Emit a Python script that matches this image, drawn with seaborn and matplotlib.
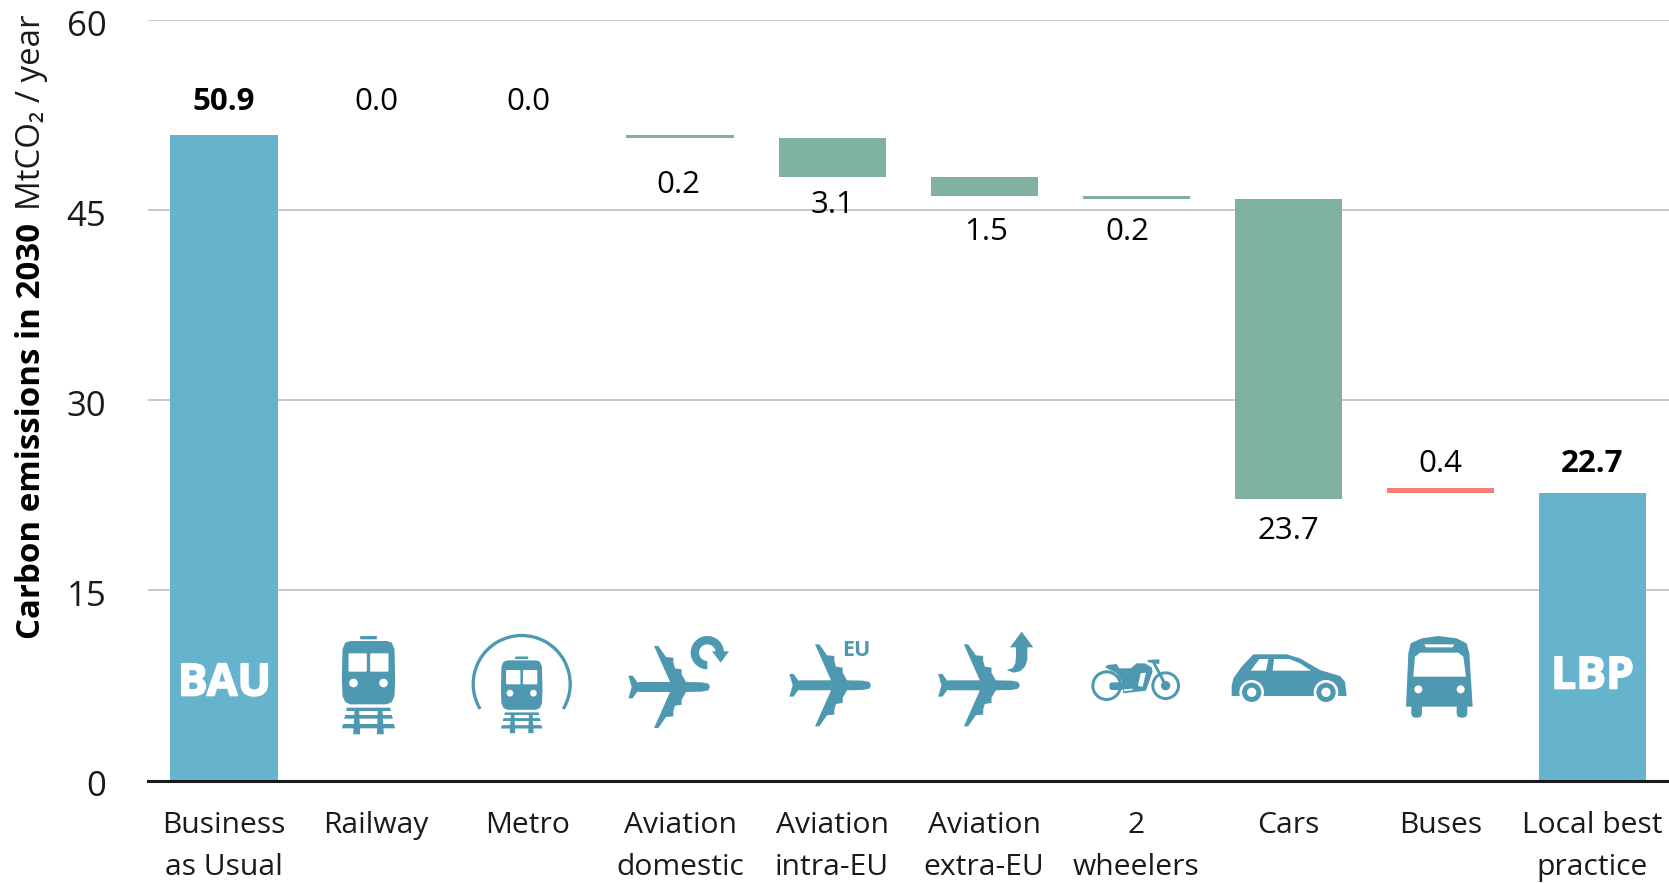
import numpy as np
import matplotlib
matplotlib.use("Agg")
import matplotlib.pyplot as plt
import seaborn as sns
import matplotlib.patheffects as pe
from matplotlib.patches import PathPatch, Circle, Polygon, FancyBboxPatch
from matplotlib.path import Path
from matplotlib.transforms import Affine2D

# Data -----------------------------------------------------------------
categories = ["Business\nas Usual", "Railway", "Metro", "Aviation\ndomestic",
              "Aviation\nintra-EU", "Aviation\nextra-EU", "2\nwheelers",
              "Cars", "Buses", "Local best\npractice"]
bau_total = 50.9
lbp_total = 22.7
# Reductions from one step to the next, MtCO2 / year
reductions = [0.0, 0.0, 0.2, 3.1, 1.5, 0.2, 23.7]
bus_increase = 0.4
value_texts = ["50.9", "0.0", "0.0", "0.2", "3.1", "1.5", "0.2", "23.7", "0.4", "22.7"]
label_heights = [53.5, 53.5, 53.5, 47.0, 45.4, 43.25, 43.25, 19.65, 24.95, 24.95]
label_x = [0, 0, 0, -0.01, 0, 0.01, -0.06, 0, 0, 0]
y_ticks = [0, 15, 30, 45, 60]

# Style ----------------------------------------------------------------
W, H = 1669, 883
BLUE, GREEN, RED = "#66b3ce", "#7eb1a0", "#f27f75"
ICON = "#4e99b1"
TEXT = "#1a1a1a"

sns.set_theme(style="white")
plt.rcParams["font.family"] = ["Open Sans", "DejaVu Sans"]

fig = plt.figure(figsize=(W / 100, H / 100), dpi=100, facecolor="white")
ax = fig.add_axes([148 / W, (H - 780.5) / H, (W - 148) / W, 760.5 / H])
PX = Affine2D().scale(1, -1).translate(0, H)  # top-left pixel coordinates
pt = 0.72  # points per pixel at this dpi

# Waterfall bars -------------------------------------------------------
def bar(i, height, bottom, color):
    sns.barplot(x=[categories[i]], y=[height], order=categories, bottom=bottom,
                color=color, saturation=1, width=0.705, linewidth=0, ax=ax, zorder=3)

bar(0, bau_total, 0, BLUE)
level = bau_total
for i, drop in enumerate(reductions, start=1):
    level -= drop
    bar(i, drop, level, GREEN)
bar(8, bus_increase, lbp_total, RED)
bar(9, lbp_total, 0, BLUE)

for i, (txt, yy, dx) in enumerate(zip(value_texts, label_heights, label_x)):
    ax.text(i + dx, yy, txt, ha="center", va="center", fontsize=22.5, color="black",
            fontweight="bold" if i in (0, 9) else "normal", zorder=5)

# Axes -----------------------------------------------------------------
ax.set_xlim(-0.5, 9.505)
ax.set_ylim(0, 60)
ax.set_yticks(y_ticks)
ax.set_xticks(range(len(categories)))
ax.set_xticklabels(categories, fontsize=21.6, color=TEXT, linespacing=1.6)
ax.set_xlabel("")
ax.set_ylabel("")
ax.tick_params(axis="y", length=0, pad=30, labelsize=25, labelcolor=TEXT)
ax.tick_params(axis="x", length=0, pad=22)
for tick_label in ax.get_yticklabels():
    tick_label.set_transform(tick_label.get_transform() + Affine2D().translate(0, -3))
ax.yaxis.grid(True, color="#c4c4c4", lw=1.3, zorder=0)
ax.xaxis.grid(False)
ax.set_axisbelow(True)
for name in ("top", "left", "right"):
    ax.spines[name].set_visible(False)
ax.spines["bottom"].set_color("#1a1a1a")
ax.spines["bottom"].set_linewidth(2.2)
ax.spines["bottom"].set_zorder(6)

# Rotated axis title in two weights, sharing one baseline
base_x = 40.5
first = fig.text(base_x, 639, "Carbon emissions in 2030", transform=PX, rotation=90,
                 rotation_mode="anchor", ha="left", va="baseline", fontsize=23.8,
                 fontweight="bold", color="black")
fig.canvas.draw()
box = first.get_window_extent(fig.canvas.get_renderer())
fig.text(base_x, H - box.y1 - 13, "MtCO₂ / year", transform=PX, rotation=90,
         rotation_mode="anchor", ha="left", va="baseline", fontsize=23.8, color=TEXT)

# Bar captions, thickened with a white outline
heavy = [pe.withStroke(linewidth=1.2, foreground="white")]
fig.text(224.5, 684, "BAU", transform=PX, ha="center", va="center", color="white",
         fontsize=32, fontweight="bold", path_effects=heavy)
fig.text(1592.5, 677, "LBP", transform=PX, ha="center", va="center", color="white",
         fontsize=32, fontweight="bold", path_effects=heavy)

# Pictograms -----------------------------------------------------------
def place(x0, y0, s=1 / 3):
    """Map local icon units to pixels: scale, then shift to (x0, y0)."""
    return Affine2D().scale(s).translate(x0, y0) + PX

def poly(pts, trans, color=ICON, z=7):
    fig.add_artist(Polygon(pts, closed=True, facecolor=color, edgecolor="none",
                           transform=trans, zorder=z))

def disc(c, r, trans, color=ICON, z=7):
    fig.add_artist(Circle(c, r, facecolor=color, edgecolor="none", transform=trans, zorder=z))

def rrect(x0, y0, x1, y1, r, trans, color=ICON, z=7):
    fig.add_artist(FancyBboxPatch((x0 + r, y0 + r), x1 - x0 - 2 * r, y1 - y0 - 2 * r,
                                  boxstyle=f"round,pad={r},rounding_size={r}",
                                  facecolor=color, edgecolor="none", transform=trans, zorder=z))

def train(cx, top, s):
    t = place(cx, top, s)
    rrect(-25, 0, 25, 10, 1, t)
    poly([(-80, 130), (-78, 40), (-70, 20), (-55, 15), (55, 15), (70, 20), (78, 40), (80, 130),
          (78, 180), (70, 198), (55, 205), (-55, 205), (-70, 198), (-78, 180)], t)
    rrect(-60, 52, -5, 107, 3, t, "white", 8)
    rrect(5, 52, 60, 107, 3, t, "white", 8)
    disc((-45, 141), 13, t, "white", 8)
    disc((45, 141), 13, t, "white", 8)
    poly([(-65, 215), (65, 215), (67, 225), (-67, 225)], t)
    poly([(-70, 237), (70, 237), (73, 248), (-73, 248)], t)
    poly([(-76, 264), (76, 264), (80, 277), (-80, 277)], t)
    poly([(-42, 225), (-28, 225), (-25, 295), (-46, 295)], t)
    poly([(28, 225), (42, 225), (46, 295), (25, 295)], t)

train(368.5, 636, 1 / 3)
train(521.7, 656.5, 0.78 / 3)

# Tunnel arc over the metro
arc = Path.arc(-31, 211)
fig.add_artist(PathPatch(arc, fill=False, edgecolor=ICON, lw=3.3 * pt, capstyle="butt",
                         transform=Affine2D().scale(48.5, -48.5).translate(521.7, 684) + PX,
                         zorder=7))

half_plane = [(130, 0), (125, -10), (105, -14), (58, -15), (45, -38), (45, -53), (25, -56),
              (20, -73), (20, -88), (-2, -90), (-25, -123), (-38, -123), (10, -15), (-80, -15),
              (-88, -14), (-102, -34), (-115, -34), (-105, 0)]
plane_pts = half_plane + [(x, -y) for x, y in half_plane[-2:0:-1]]

def plane(x0, y0):
    poly(plane_pts, place(x0, y0))

plane(666.7, 687)
plane(827.7, 685.3)
plane(976.5, 685.3)

# Round-trip arrow for domestic flights
t = place(300 + 1222 / 3, 610 + 128 / 3)
ang = np.radians(np.linspace(90, 360, 40))
ring_pts = np.r_[np.c_[50 * np.cos(ang), 50 * np.sin(ang)],
                 np.c_[25 * np.cos(ang[::-1]), 25 * np.sin(ang[::-1])]]
poly(ring_pts, t)
poly([(14, -4), (65, -4), (40, 30)], t)

# "EU" tag and the upward arrow
fig.text(856, 650.5, "EU", transform=PX, ha="center", va="center", color=ICON,
         fontsize=15.5, fontweight="bold", zorder=7)
t = place(770, 610)
poly([(755, 65), (790, 112), (772, 112), (772, 150), (765, 170), (750, 184), (730, 188),
      (710, 180), (728, 174), (736, 160), (738, 140), (738, 112), (720, 112)], t)

# Motorbike
t = place(770, 610)
for c, r in (((1010, 227), 46), ((1187, 227), 43)):
    disc(c, r, t)
    disc(c, r - 9, t, "white", 8)
disc((1187, 227), 14, t, ICON, 9)
rrect(1018, 217, 1060, 240, 8, t, ICON, 9)
poly([(1005, 172), (1012, 165), (1040, 162), (1048, 175), (1082, 175), (1100, 160), (1125, 160),
      (1145, 172), (1148, 185), (1128, 242), (1060, 250), (1056, 215), (1040, 190)], t, ICON, 9)
poly([(1112, 190), (1128, 188), (1118, 230), (1104, 228)], t, "white", 10)
poly([(1062, 238), (1085, 236), (1090, 240), (1062, 244)], t, "white", 10)
poly([(1145, 155), (1153, 152), (1192, 225), (1184, 230)], t, ICON, 9)
poly([(1132, 150), (1168, 148), (1168, 162), (1150, 160), (1134, 156)], t, ICON, 9)

# Car
t = place(1200, 610)
poly([(95, 228), (100, 205), (125, 170), (160, 133), (260, 133), (300, 145), (360, 180),
      (420, 198), (435, 215), (440, 258), (95, 258)], t)
poly([(152, 182), (178, 147), (205, 147), (198, 182)], t, "white", 8)
poly([(218, 182), (222, 147), (268, 147), (300, 160), (333, 182)], t, "white", 8)
for c in ((155, 247), (378, 247)):
    disc(c, 37, t, "white", 8)
    disc(c, 29, t, ICON, 9)
    disc(c, 14, t, "white", 10)

# Bus
poly([(618, 290), (625, 130), (632, 100), (665, 85), (715, 78), (770, 85), (800, 100),
      (808, 130), (818, 290)], t)
rrect(634, 280, 666, 323, 14, t)
rrect(770, 280, 802, 323, 14, t)
poly([(640, 200), (645, 140), (660, 128), (775, 128), (790, 140), (798, 200)], t, "white", 8)
poly([(673, 103), (763, 103), (758, 112), (678, 112)], t, "white", 8)
disc((655, 238), 12, t, "white", 8)
disc((782, 238), 12, t, "white", 8)

fig.savefig("out.png", dpi=100, facecolor="white")
